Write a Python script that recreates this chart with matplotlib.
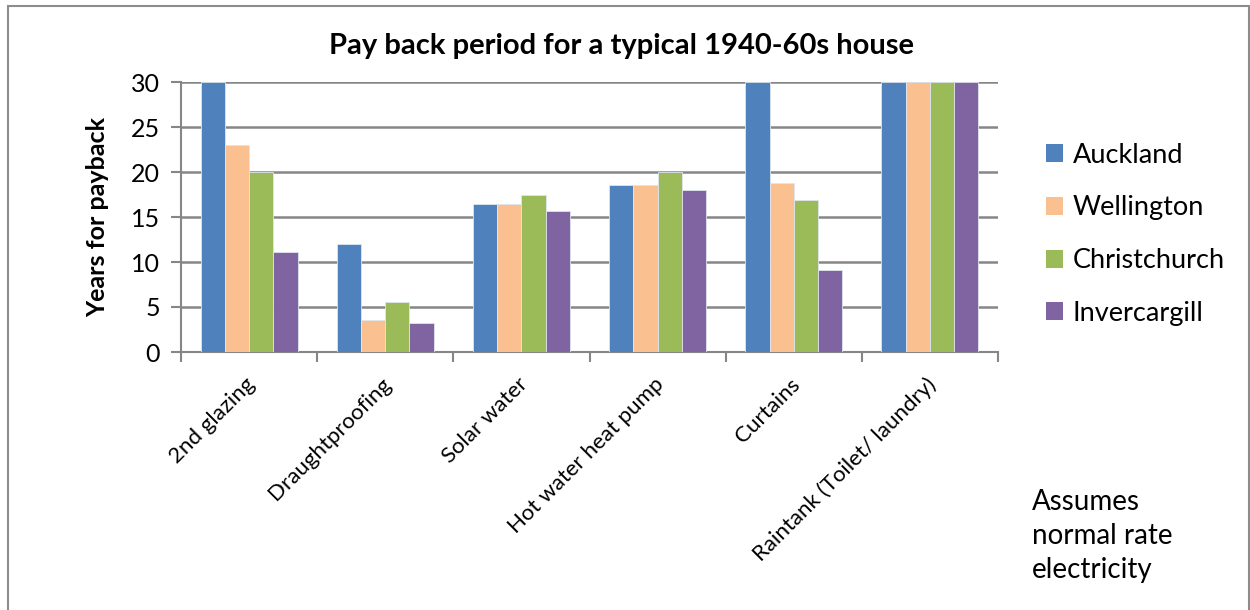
import matplotlib
matplotlib.use("Agg")
import matplotlib.pyplot as plt
import numpy as np
from matplotlib.patches import Rectangle, Patch
from matplotlib.transforms import ScaledTranslation

plt.rcParams['font.family'] = ['Lato', 'DejaVu Sans']

categories = ["2nd glazing", "Draughtproofing", "Solar water", "Hot water heat pump",
              "Curtains", "Raintank (Toilet/ laundry)"]
cities = ["Auckland", "Wellington", "Christchurch", "Invercargill"]
auckland = [30, 12.0, 16.4, 18.6, 30, 30]
wellington = [23.0, 3.6, 16.4, 18.6, 18.8, 30]
christchurch = [20.0, 5.6, 17.5, 20.0, 16.9, 30]
invercargill = [11.1, 3.2, 15.7, 18.0, 9.1, 30]
series = [auckland, wellington, christchurch, invercargill]
colors = ["#4F81BD", "#FAC090", "#9BBB59", "#8064A2"]
yticks = [0, 5, 10, 15, 20, 25, 30]

fig = plt.figure(figsize=(12.5, 6.1), dpi=100)
fig.patches.append(Rectangle((8 / 1250, -0.01), (1249 - 8) / 1250, 1 - 6 / 610 + 0.01,
                             transform=fig.transFigure, fill=False,
                             edgecolor="#8c8c8c", linewidth=1.5))

ax = fig.add_axes([181 / 1250, 1 - 352 / 610, (998 - 181) / 1250, (352 - 82) / 610])

x = np.arange(len(categories))
w = 0.178
for i, (vals, c) in enumerate(zip(series, colors)):
    ax.bar(x + (i - 1.5) * w, vals, width=w, color=c, edgecolor="#dfe6ef",
           linewidth=0.6, label=cities[i], zorder=3)

ax.set_xlim(-0.5, len(categories) - 0.5)
ax.set_ylim(0, 30)
ax.set_yticks(yticks)
ax.set_yticklabels([str(t) for t in yticks], fontsize=18)
ax.yaxis.grid(True, color="#868686", linewidth=1.8, zorder=0)
ax.set_axisbelow(True)

ax.set_xticks(np.arange(len(categories) + 1) - 0.5, minor=False)
ax.set_xticklabels([])
ax.set_xticks(x, minor=True)
ax.set_xticklabels(categories, minor=True, rotation=45, ha="right",
                   rotation_mode="anchor", fontsize=16)
ax.tick_params(axis="x", which="minor", length=0, pad=16)
ax.tick_params(axis="x", which="major", length=7, width=1.5, color="#868686")
ax.tick_params(axis="y", length=7, width=1.5, color="#868686", pad=8)
for lbl in ax.get_xticklabels(minor=True):
    lbl.set_transform(lbl.get_transform() + ScaledTranslation(-0.04, 0, fig.dpi_scale_trans))

for s in ["top", "right"]:
    ax.spines[s].set_visible(False)
for s in ["left", "bottom"]:
    ax.spines[s].set_color("#868686")
    ax.spines[s].set_linewidth(1.5)

ax.set_ylabel("Years for payback", fontsize=18, fontweight="bold", labelpad=16)
fig.text(0.497, 1 - 46 / 610, "Pay back period for a typical 1940-60s house",
         ha="center", va="center", fontsize=21, fontweight="bold")

handles = [Patch(facecolor=c, edgecolor="none") for c in colors]
fig.legend(handles, cities, loc="upper left", bbox_to_anchor=(1035 / 1250, 1 - 132 / 610),
           frameon=False, fontsize=19.5, handlelength=0.65, handleheight=0.65,
           handletextpad=0.35, labelspacing=1.02, borderaxespad=0)

fig.text(1032 / 1250, 1 - 536 / 610, "Assumes\nnormal rate\nelectricity",
         ha="left", va="center", fontsize=20, linespacing=1.4)

fig.savefig("out.png", dpi=100, facecolor="white")
